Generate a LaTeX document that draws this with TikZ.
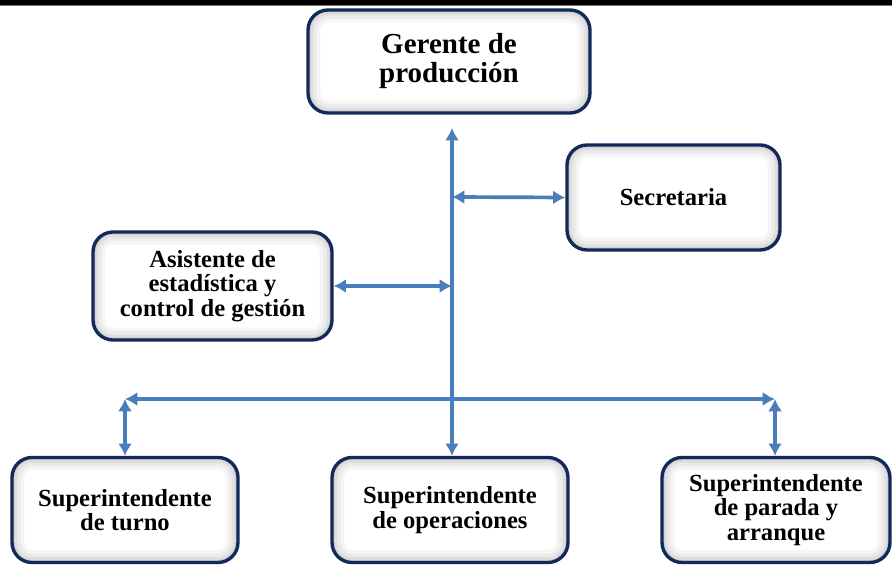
\documentclass[tikz,border=0pt]{standalone}
\usepackage{fontspec}
\setmainfont{Liberation Serif}
\usepackage{tikz}
\usetikzlibrary{arrows.meta}
\definecolor{orgNavy}{HTML}{12295C}
\definecolor{orgBlue}{HTML}{4A7EBB}

\begin{document}
\begin{tikzpicture}[>={Latex[length=7pt,width=8pt]},
  glow/.style={line width=#1, rounded corners=0.4cm},
  box/.style={draw=orgNavy, line width=1.9pt, fill=white, rounded corners=0.4cm,
    align=center, inner sep=0pt, font=\bfseries\fontsize{14}{14}\selectfont,
    path picture={
      \draw[black!4, glow=14pt] (path picture bounding box.south west) rectangle (path picture bounding box.north east);
      \draw[black!8, glow=10pt] (path picture bounding box.south west) rectangle (path picture bounding box.north east);
      \draw[black!13, glow=6pt] (path picture bounding box.south west) rectangle (path picture bounding box.north east);
      \draw[black!20, glow=3pt] (path picture bounding box.south west) rectangle (path picture bounding box.north east);
    }},
  link/.style={<->, orgBlue, line width=2.1pt}]
  \useasboundingbox (0,0) rectangle (17.84,11.3);
  % top bar
  \fill[black] (0,11.2) rectangle (17.84,11.3);
  \fill[black!55] (0,11.17) rectangle (17.84,11.2);
  % boxes
  \node[box, minimum width=5.64cm, minimum height=2.06cm, font=\bfseries\fontsize{16.5}{16.5}\selectfont] (gerente) at (8.98,10.07) {Gerente de\\producción};
  \node[box, minimum width=4.26cm, minimum height=2.1cm] (secretaria) at (13.47,7.35) {Secretaria};
  \node[box, minimum width=4.78cm, minimum height=2.16cm] (asistente) at (4.25,5.58) {Asistente de\\estadística y\\control de gestión};
  \node[box, minimum width=4.52cm, minimum height=2.1cm] (turno) at (2.5,1.1) {Superintendente\\de turno};
  \node[box, minimum width=4.72cm, minimum height=2.1cm] (operaciones) at (9.0,1.1) {Superintendente\\de operaciones};
  \node[box, minimum width=4.56cm, minimum height=2.1cm] (parada) at (15.52,1.1) {Superintendente\\de parada y\\arranque};
  % connector points
  \coordinate (trunkTop) at (9.04,8.74);
  \coordinate (jSec) at (9.04,7.36);
  \coordinate (busL) at (2.5,3.32);
  \coordinate (busR) at (15.5,3.32);
  % connectors
  \draw[link] (trunkTop) -- (trunkTop |- operaciones.north);
  \draw[link] (jSec) -- (secretaria.west);
  \draw[link] (asistente.east) -- (asistente.east -| trunkTop);
  \draw[link] (busL) -- (busR);
  \draw[link] (busL) -- (turno.north);
  \draw[link] (busR) -- (busR |- parada.north);
\end{tikzpicture}
\end{document}
